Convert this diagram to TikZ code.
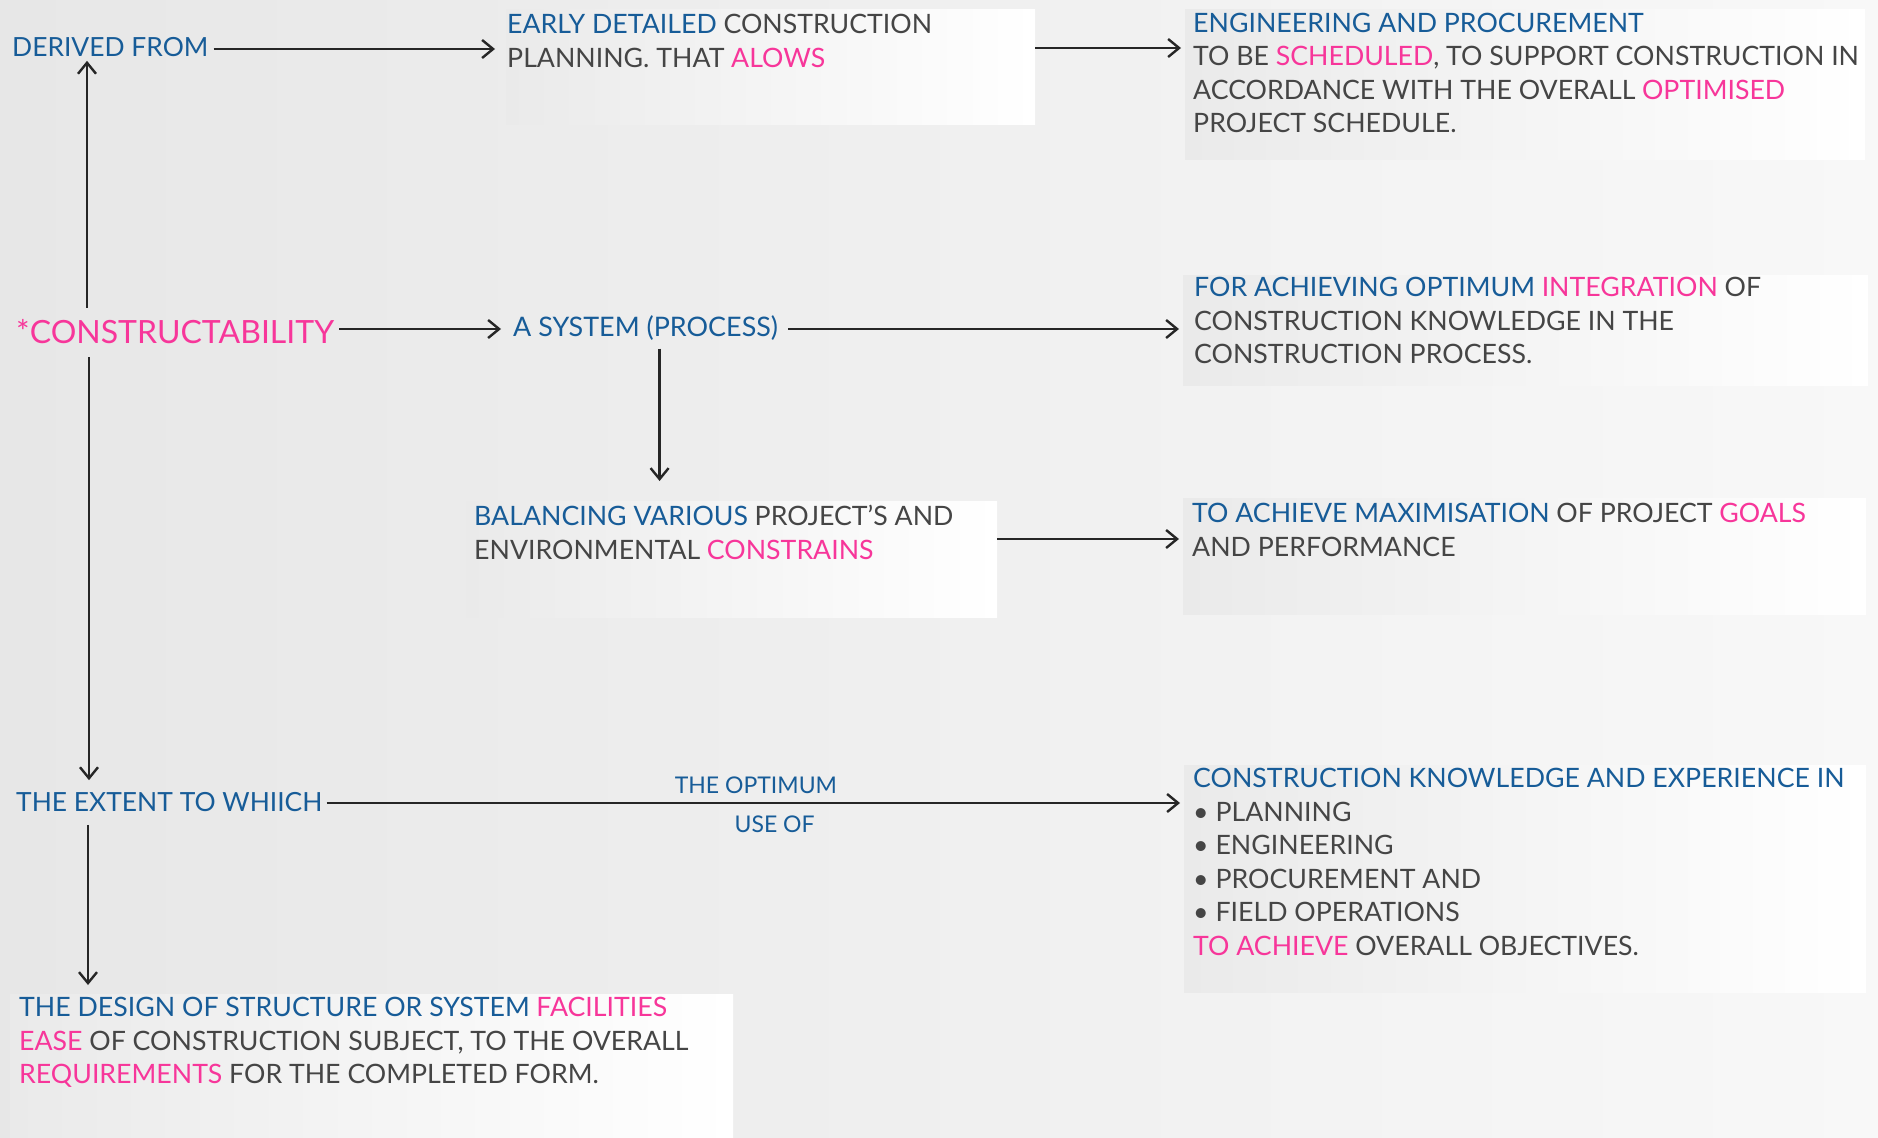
\documentclass[tikz,border=0pt]{standalone}
\usepackage{fontspec}
\setmainfont{Lato}
\usetikzlibrary{arrows.meta,calc}

\definecolor{bgL}{HTML}{E7E7E7}
\definecolor{bgR}{HTML}{F8F8F8}
\definecolor{boxL}{HTML}{EAEAEA}
\definecolor{blueT}{HTML}{175C98}
\definecolor{pinkT}{HTML}{F7369A}
\definecolor{grayT}{HTML}{454545}
\definecolor{lineC}{HTML}{262626}

\newcommand\bl[1]{\textcolor{blueT}{#1}}
\newcommand\pk[1]{\textcolor{pinkT}{#1}}

\tikzset{
  panel/.style={draw=none, left color=boxL, right color=white,
    anchor=north west, inner sep=0pt, outer sep=0pt},
  body/.style={anchor=north west, inner sep=0pt, align=left, text=grayT,
    font=\fontsize{26.7}{33.5}\selectfont},
  term/.style={anchor=west, inner sep=0pt, text=blueT,
    font=\fontsize{26.4}{33.5}\selectfont},
  small/.style={inner sep=0pt, text=blueT, font=\fontsize{23}{28}\selectfont},
  arr/.style={draw=lineC, line width=2.4pt,
    -{Straight Barb[length=11pt,width=18pt]}},
}

\begin{document}
\begin{tikzpicture}[x=1pt, y=-1pt]
  % page and backdrop
  \useasboundingbox (0,0) rectangle (1878,1137);
  \shade[left color=bgL, right color=bgR] (0,0) rectangle (1878,1137);

  % shaded panels
  \node[panel, minimum width=529pt, minimum height=115pt] (b1) at (506,10) {};
  \node[panel, minimum width=680pt, minimum height=150pt] (b2) at (1185,9.5) {};
  \node[panel, minimum width=685pt, minimum height=110pt] (b3) at (1183,275) {};
  \node[panel, minimum width=531pt, minimum height=116pt] (b4) at (466,501) {};
  \node[panel, minimum width=683pt, minimum height=116pt] (b5) at (1183,498) {};
  \node[panel, minimum width=682pt, minimum height=227pt] (b6) at (1184,765) {};
  \node[panel, minimum width=723pt, minimum height=143pt] (b7) at (10,994) {};

  % panel texts
  \node[body] (t1) at (507,14) {\bl{EARLY DETAILED} CONSTRUCTION\\PLANNING. THAT \pk{ALOWS}};
  \node[body] (t2) at (1193,12.5) {\bl{ENGINEERING AND PROCUREMENT}\\TO BE \pk{SCHEDULED}, TO SUPPORT CONSTRUCTION IN\\ACCORDANCE WITH THE OVERALL \pk{OPTIMISED}\\PROJECT SCHEDULE.};
  \node[body] (t3) at (1194,277) {\bl{FOR ACHIEVING OPTIMUM} \pk{INTEGRATION} OF\\CONSTRUCTION KNOWLEDGE IN THE\\CONSTRUCTION PROCESS.};
  \node[body] (t4) at (474,505) {\bl{BALANCING VARIOUS} PROJECT'S AND\\ENVIRONMENTAL \pk{CONSTRAINS}};
  \node[body] (t5) at (1192,503) {\bl{TO ACHIEVE MAXIMISATION} OF PROJECT \pk{GOALS}\\AND PERFORMANCE};
  \node[body] (t6) at (1193,768) {\bl{CONSTRUCTION KNOWLEDGE AND EXPERIENCE IN}\\• PLANNING\\• ENGINEERING\\• PROCUREMENT AND\\• FIELD OPERATIONS\\\pk{TO ACHIEVE} OVERALL OBJECTIVES.};
  \node[body] (t7) at (19,997) {\bl{THE DESIGN OF STRUCTURE OR SYSTEM} \pk{FACILITIES}\\\pk{EASE} OF CONSTRUCTION SUBJECT, TO THE OVERALL\\\pk{REQUIREMENTS} FOR THE COMPLETED FORM.};

  % free-standing terms
  \node[term] (derived) at (12,47) {DERIVED FROM};
  \node[term, text=pinkT, font=\fontsize{32}{36}\selectfont] (constr) at (16,332) {*CONSTRUCTABILITY};
  \node[term, font=\fontsize{26.9}{33.5}\selectfont] (sys) at (513,328) {A SYSTEM (PROCESS)};
  \node[term] (extent) at (16,802) {THE EXTENT TO WHIICH};

  % connectors
  \draw[arr] ($(derived.east)+(5,2)$) -- ($(derived.east -| b1.west)+(-11,2)$);
  \draw[arr] ($(b1.north east)+(0,38)$) -- ($(b1.north east -| b2.west)+(-4,38)$);
  \draw[arr] ($(constr.east)+(5,-3)$) -- ($(constr.east -| sys.west)+(-12,-3)$);
  \draw[arr] ($(sys.east)+(10,1)$) -- ($(sys.east -| b3.west)+(-4,1)$);
  \draw[arr] ($(sys.south)+(14,8)$) -- ($(sys.south |- b4.north)+(14,-20)$);
  \draw[arr] ($(b4.north east)+(0,38)$) -- ($(b4.north east -| b5.west)+(-4,38)$);
  \draw[arr] ($(constr.north west)+(71,-12)$) -- ($(derived.south west)+(75,4)$);
  \draw[arr] ($(constr.south west)+(73,13)$) -- ($(extent.north west)+(73,-12)$);
  \draw[arr] ($(extent.east)+(4,1)$) -- ($(extent.east -| b6.west)+(-4,1)$)
    node[small, pos=0.503, above=8pt] (optlbl) {THE OPTIMUM}
    node[small, pos=0.525, below=12pt] (uselbl) {USE OF};
  \draw[arr] ($(extent.south west)+(72,13)$) -- ($(extent.south west |- b7.north)+(72,-9)$);
\end{tikzpicture}
\end{document}
